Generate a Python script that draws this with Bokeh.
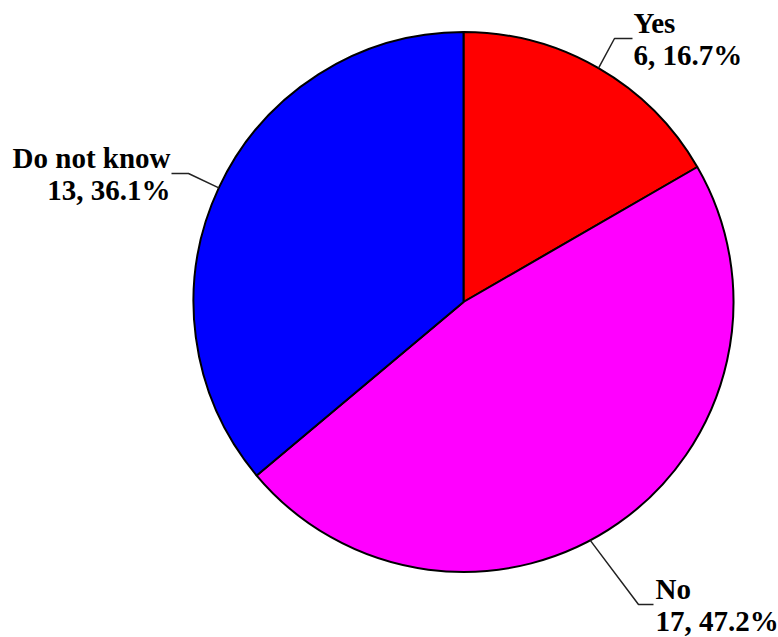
import math
from bokeh.plotting import figure
from bokeh.models import Range1d, ColumnDataSource
from bokeh.core.properties import value
from bokeh.embed import file_html
from bokeh.resources import INLINE

# ---- data ----
categories = ["Yes", "No", "Do not know"]
counts = [6, 17, 13]
percents = ["16.7%", "47.2%", "36.1%"]
colors = ["#FF0000", "#FF00FF", "#0000FF"]

# ---- layout (pixel coordinates, y down) ----
W, H = 778, 637
CX, CY, R = 463, 301.5, 270
# per label: leader-angle shift (deg), elbow point, text x, alignment
label_layout = {
    "Yes":         dict(shift=0.0,  elbow=(614, 38),  tx=633, align="left",  end=632),
    "No":          dict(shift=-7.0, elbow=(638, 604), tx=655, align="left",  end=653),
    "Do not know": dict(shift=0.0,  elbow=(188, 173), tx=170, align="right", end=171),
}

def fy(y):
    return H - y

p = figure(width=W, height=H, output_backend="svg", toolbar_location=None,
           x_range=Range1d(0, W), y_range=Range1d(0, H), min_border=0)
p.axis.visible = False
p.grid.visible = False
p.outline_line_color = None
p.background_fill_color = "white"
p.border_fill_color = "white"

total = sum(counts)
starts, ends, mids = [], [], []
a = math.pi / 2
for c in counts:
    sweep = 2 * math.pi * c / total
    starts.append(a)
    ends.append(a - sweep)
    mids.append(a - sweep / 2)
    a -= sweep

src = ColumnDataSource(dict(x=[CX] * len(counts), y=[fy(CY)] * len(counts),
                            start=starts, end=ends, color=colors))
p.wedge(x="x", y="y", radius=R, start_angle="start", end_angle="end",
        direction="clock", fill_color="color", line_color="black",
        line_width=2, source=src)

for cat, cnt, pct, mid in zip(categories, counts, percents, mids):
    lay = label_layout[cat]
    ang = mid + math.radians(lay["shift"])
    sx = CX + R * math.cos(ang)
    sy = CY - R * math.sin(ang)
    ex, ey = lay["elbow"]
    p.line([sx, ex, lay["end"]], [fy(sy), fy(ey), fy(ey)],
           line_color="#222222", line_width=1.5)
    p.text(x=[lay["tx"], lay["tx"]], y=[fy(ey - 16), fy(ey + 16)],
           text=[cat, f"{cnt}, {pct}"],
           text_font=value("Liberation Serif"), text_font_style="bold",
           text_font_size="29px", text_color="black",
           text_align=lay["align"], text_baseline="alphabetic")

open("out.html", "w").write(file_html(p, INLINE))
